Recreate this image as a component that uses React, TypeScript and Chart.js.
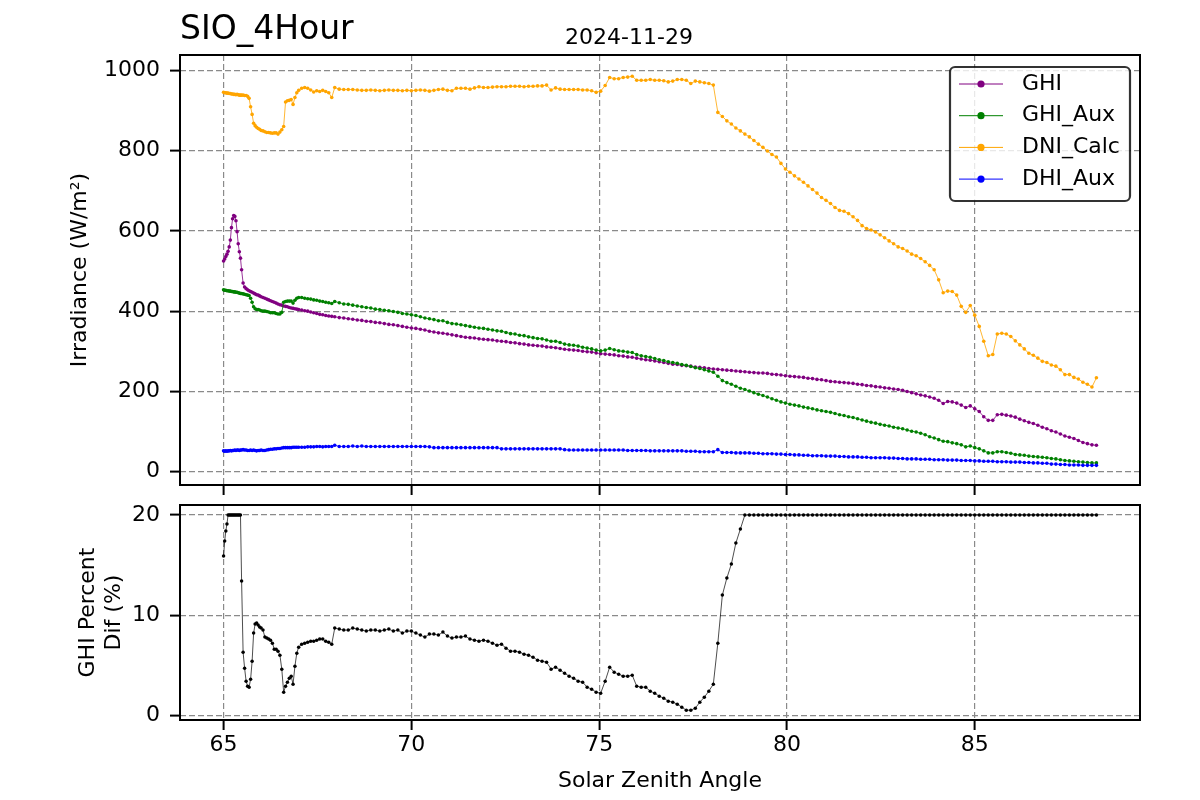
import React, { useEffect, useRef } from 'react';
import { Chart, registerables } from 'chart.js';

Chart.register(...registerables);

const FONT = "'DejaVu Sans', 'Liberation Sans', sans-serif";
Chart.defaults.font.family = FONT;
Chart.defaults.color = '#000';

// Solar zenith angle (x) for every sample
const ZENITH = [
  65.00, 65.03, 65.06, 65.09, 65.12, 65.15, 65.18, 65.21, 65.24, 65.27, 65.30, 65.33, 65.36, 65.39, 65.42, 65.45,
  65.48, 65.52, 65.56, 65.60, 65.64, 65.68, 65.72, 65.76, 65.80, 65.84, 65.88, 65.92, 65.96, 66.00,
  66.05, 66.10, 66.15, 66.20, 66.25, 66.30, 66.35, 66.40, 66.45, 66.50, 66.55, 66.60, 66.65, 66.70, 66.75, 66.80, 66.85, 66.90, 66.95, 67.00,
  67.08, 67.16, 67.24, 67.32, 67.40, 67.48, 67.56, 67.64, 67.72, 67.80, 67.88, 67.96,
  68.08, 68.20, 68.32, 68.44, 68.56, 68.68, 68.80, 68.92, 69.04, 69.16,
  69.28, 69.40, 69.52, 69.64, 69.76, 69.88, 70.00, 70.12, 70.24, 70.36,
  70.48, 70.60, 70.72, 70.84, 70.96, 71.08, 71.20, 71.32, 71.44, 71.56,
  71.68, 71.80, 71.92, 72.04, 72.16, 72.28, 72.40, 72.52, 72.64, 72.76,
  72.88, 73.00, 73.12, 73.24, 73.36, 73.48, 73.60, 73.72, 73.84, 73.96,
  74.08, 74.20, 74.32, 74.44, 74.56, 74.68, 74.80, 74.92, 75.04, 75.16,
  75.28, 75.40, 75.52, 75.64, 75.76, 75.88, 76.00, 76.12, 76.24, 76.36,
  76.48, 76.60, 76.72, 76.84, 76.96, 77.08, 77.20, 77.32, 77.44, 77.56,
  77.68, 77.80, 77.92, 78.04, 78.16, 78.28, 78.40, 78.52, 78.64, 78.76,
  78.88, 79.00, 79.12, 79.24, 79.36, 79.48, 79.60, 79.72, 79.84, 79.96,
  80.08, 80.20, 80.32, 80.44, 80.56, 80.68, 80.80, 80.92, 81.04, 81.16,
  81.28, 81.40, 81.52, 81.64, 81.76, 81.88, 82.00, 82.12, 82.24, 82.36,
  82.48, 82.60, 82.72, 82.84, 82.96, 83.08, 83.20, 83.32, 83.44, 83.56,
  83.68, 83.80, 83.92, 84.04, 84.16, 84.28, 84.40, 84.52, 84.64, 84.76,
  84.88, 85.00, 85.12, 85.24, 85.36, 85.48, 85.60, 85.72, 85.84, 85.96,
  86.08, 86.20, 86.32, 86.44, 86.56, 86.68, 86.80, 86.92, 87.04, 87.16,
  87.28, 87.40, 87.52, 87.64, 87.76, 87.88, 88.00, 88.12, 88.24,
];

const GHI = [
  525, 530, 536, 542, 549, 560, 577, 608, 630, 638, 636, 625, 598, 568, 548, 532,
  503, 470, 460, 456, 453, 451, 449, 447, 445, 443, 441, 440, 438, 436,
  434, 432, 430, 428, 426, 424, 422, 420, 418, 416, 415, 413, 412, 411, 409, 408, 407, 406, 405, 404,
  403, 401, 400, 398, 396, 394, 392, 391, 389, 388, 387, 386,
  384, 383, 381, 380, 378, 377, 375, 374, 372, 371,
  369, 367, 366, 364, 362, 360, 358, 357, 355, 353,
  350, 348, 346, 345, 343, 341, 339, 337, 335, 334,
  333, 331, 330, 329, 328, 326, 325, 324, 322, 321,
  319, 318, 316, 315, 314, 313, 311, 310, 309, 307,
  305, 304, 303, 302, 300, 299, 298, 296, 294, 293,
  292, 291, 289, 288, 286, 285, 283, 281, 279, 278,
  276, 274, 272, 270, 268, 267, 265, 264, 263, 261,
  260, 259, 257, 256, 255, 254, 253, 252, 251, 250,
  249, 248, 247, 246, 246, 245, 243, 242, 241, 239,
  238, 237, 236, 235, 233, 232, 230, 229, 227, 225,
  224, 223, 222, 221, 220, 218, 217, 215, 214, 212,
  211, 209, 208, 206, 205, 203, 200, 197, 194, 191,
  189, 186, 183, 178, 170, 175, 174, 171, 166, 160,
  164, 157, 150, 137, 128, 128, 142, 143, 141, 139,
  136, 131, 127, 123, 120, 116, 111, 107, 102, 99,
  94, 89, 86, 83, 78, 73, 70, 67, 66,
];

const GHI_AUX = [
  453, 452, 452, 451, 451, 450, 450, 449, 449, 448, 448, 447, 447, 446, 445, 444,
  444, 443, 442, 441, 440, 439, 432, 422, 411, 406, 404, 404, 403, 401,
  400, 400, 399, 398, 396, 396, 396, 394, 393, 393, 397, 422, 424, 425, 425, 425, 420, 427, 432, 434,
  434, 432, 431, 430, 428, 427, 425, 424, 422, 421, 419, 424,
  421, 418, 417, 415, 413, 411, 409, 408, 405, 404,
  402, 401, 399, 397, 394, 393, 391, 389, 386, 383,
  381, 379, 376, 376, 372, 369, 368, 366, 364, 362,
  360, 358, 357, 355, 353, 351, 350, 347, 344, 343,
  340, 339, 336, 334, 332, 331, 328, 325, 325, 322,
  318, 316, 315, 313, 310, 308, 306, 303, 301, 303,
  307, 304, 301, 300, 298, 297, 292, 289, 287, 285,
  282, 279, 277, 274, 272, 270, 267, 265, 262, 259,
  257, 254, 251, 248, 238, 227, 222, 218, 213, 208,
  205, 201, 197, 193, 190, 186, 182, 178, 174, 171,
  168, 166, 164, 161, 159, 157, 154, 152, 150, 148,
  145, 142, 140, 137, 135, 132, 129, 126, 123, 121,
  118, 116, 114, 111, 109, 107, 104, 101, 99, 96,
  92, 87, 84, 80, 76, 75, 72, 70, 67, 62,
  64, 60, 57, 52, 47, 47, 50, 50, 48, 46,
  43, 42, 41, 39, 38, 37, 36, 35, 33, 32,
  30, 28, 27, 26, 25, 24, 23, 22, 22,
];

const DNI_CALC = [
  945, 944, 944, 943, 943, 942, 942, 941, 941, 940, 940, 939, 940, 939, 938, 938,
  938, 938, 937, 937, 935, 930, 909, 890, 868, 862, 858, 855, 853, 850,
  849, 847, 845, 845, 844, 843, 844, 844, 841, 846, 852, 860, 921, 924, 925, 927, 915, 932, 944, 950,
  955, 957, 955, 951, 946, 949, 947, 950, 947, 944, 932, 957,
  953, 952, 952, 952, 951, 950, 950, 951, 950, 949,
  950, 951, 950, 950, 949, 950, 949, 950, 951, 950,
  948, 950, 952, 953, 950, 949, 955, 955, 955, 953,
  956, 959, 957, 957, 958, 959, 959, 959, 960, 960,
  960, 959, 960, 960, 961, 961, 963, 951, 956, 953,
  952, 952, 952, 952, 951, 951, 949, 945, 948, 962,
  982, 979, 979, 982, 983, 985, 975, 975, 975, 977,
  975, 975, 974, 971, 973, 977, 977, 975, 967, 973,
  971, 969, 967, 963, 895, 885, 874, 866, 856, 849,
  841, 834, 825, 816, 808, 799, 790, 784, 768, 754,
  746, 737, 729, 721, 712, 703, 694, 683, 676, 668,
  658, 651, 649, 643, 635, 626, 613, 606, 602, 597,
  590, 583, 575, 568, 560, 556, 550, 542, 538, 531,
  523, 514, 503, 478, 446, 450, 449, 440, 412, 397,
  414, 390, 362, 325, 289, 292, 343, 345, 343, 337,
  326, 316, 306, 295, 290, 283, 275, 272, 266, 263,
  254, 242, 242, 235, 231, 223, 218, 211, 234,
];

const DHI_AUX = [
  52, 51, 52, 51, 52, 52, 53, 52, 53, 53, 54, 53, 54, 54, 53, 54,
  54, 55, 54, 54, 53, 53, 54, 53, 54, 53, 52, 53, 53, 54,
  53, 53, 54, 55, 56, 56, 57, 57, 58, 58, 59, 60, 60, 60, 60, 60, 61, 61, 61, 61,
  61, 61, 62, 62, 62, 63, 63, 62, 63, 63, 63, 66,
  63, 63, 63, 64, 63, 64, 63, 63, 63, 63,
  63, 63, 63, 63, 63, 63, 63, 63, 63, 63,
  62, 60, 60, 60, 60, 60, 60, 60, 60, 60,
  60, 60, 60, 60, 60, 60, 57, 57, 57, 57,
  57, 57, 57, 57, 57, 57, 57, 57, 57, 57,
  55, 54, 54, 54, 54, 54, 54, 54, 54, 54,
  54, 54, 54, 54, 53, 53, 53, 53, 53, 52,
  52, 52, 52, 52, 52, 52, 52, 51, 51, 51,
  50, 50, 50, 50, 55, 48, 48, 48, 47, 47,
  47, 47, 46, 46, 45, 45, 45, 44, 44, 43,
  43, 42, 42, 41, 41, 40, 40, 40, 39, 39,
  39, 38, 38, 37, 37, 37, 36, 36, 35, 35,
  35, 35, 34, 34, 33, 33, 32, 32, 32, 31,
  31, 31, 30, 30, 30, 29, 29, 29, 28, 28,
  28, 27, 27, 26, 26, 26, 25, 25, 25, 24,
  24, 24, 23, 23, 22, 22, 21, 21, 19, 19,
  18, 18, 17, 17, 17, 16, 16, 16, 16,
];

const GHI_PCT_DIF = [
  15.9, 17.4, 18.4, 19.1, 20, 20, 20, 20, 20, 20, 20, 20, 20, 20, 20, 20,
  13.4, 6.3, 4.7, 3.4, 2.9, 2.8, 3.6, 5.4, 8.2, 9.1, 9.2, 9.0, 8.8, 8.7,
  8.5, 7.8, 7.7, 7.6, 7.5, 7.2, 6.6, 6.6, 6.4, 6.0, 4.6, 2.3, 2.9, 3.3, 3.7, 3.9, 3.1, 4.9, 6.2, 6.8,
  7.1, 7.2, 7.3, 7.4, 7.4, 7.5, 7.6, 7.6, 7.4, 7.3, 7.1, 8.7,
  8.6, 8.5, 8.5, 8.7, 8.6, 8.5, 8.4, 8.5, 8.5, 8.4,
  8.5, 8.6, 8.4, 8.5, 8.2, 8.4, 8.4, 8.2, 8.0, 7.8,
  8.1, 8.1, 8.0, 8.3, 7.9, 7.7, 7.8, 7.8, 7.9, 7.6,
  7.5, 7.4, 7.5, 7.4, 7.2, 7.0, 7.1, 6.7, 6.4, 6.4,
  6.3, 6.1, 6.0, 5.8, 5.5, 5.4, 5.3, 4.6, 4.8, 4.5,
  4.2, 3.9, 3.7, 3.4, 3.3, 2.8, 2.6, 2.3, 2.2, 3.4,
  4.8, 4.3, 4.1, 3.9, 3.9, 4.0, 2.9, 2.8, 2.8, 2.4,
  2.2, 1.9, 1.7, 1.4, 1.3, 1.1, 0.8, 0.5, 0.5, 0.7,
  1.3, 1.8, 2.4, 3.1, 7.2, 12.0, 13.7, 15.1, 17.2, 18.6,
  20, 20, 20, 20, 20, 20, 20, 20, 20, 20,
  20, 20, 20, 20, 20, 20, 20, 20, 20, 20,
  20, 20, 20, 20, 20, 20, 20, 20, 20, 20,
  20, 20, 20, 20, 20, 20, 20, 20, 20, 20,
  20, 20, 20, 20, 20, 20, 20, 20, 20, 20,
  20, 20, 20, 20, 20, 20, 20, 20, 20, 20,
  20, 20, 20, 20, 20, 20, 20, 20, 20, 20,
  20, 20, 20, 20, 20, 20, 20, 20, 20,
];

const SERIES_LABELS = ['GHI', 'GHI_Aux', 'DNI_Calc', 'DHI_Aux'];
const SERIES_COLORS = ['#800080', '#008000', '#FFA500', '#0000FF'];
const SERIES_VALUES = [GHI, GHI_AUX, DNI_CALC, DHI_AUX];

const X_TICKS = [65, 70, 75, 80, 85];
const Y_TICKS_TOP = [0, 200, 400, 600, 800, 1000];
const Y_TICKS_BOTTOM = [0, 10, 20];

const X_MIN = 63.84;
const X_MAX = 89.4;

const TITLE = 'SIO_4Hour';
const DATE = '2024-11-29';

const GRID_COLOR = '#8a8a8a';
const DASH = [6, 3];

const frame = {
  id: 'frame',
  afterDatasetsDraw(chart: any) {
    const { ctx, chartArea: a } = chart;
    ctx.save();
    ctx.strokeStyle = '#000';
    ctx.lineWidth = 2;
    ctx.setLineDash([]);
    ctx.strokeRect(a.left, a.top, a.right - a.left, a.bottom - a.top);
    ctx.restore();
  },
};

// date label above the axes (matplotlib centre title)
const dateLabel = {
  id: 'dateLabel',
  afterDraw(chart: any) {
    const { ctx, chartArea: a } = chart;
    ctx.save();
    ctx.fillStyle = '#000';
    ctx.font = `22px ${FONT}`;
    ctx.textAlign = 'center';
    ctx.textBaseline = 'alphabetic';
    ctx.fillText(DATE, a.left + 449, a.top - 11);
    ctx.restore();
  },
};

const insetLegend = {
  id: 'insetLegend',
  afterDraw(chart: any) {
    const { ctx, chartArea: a } = chart;
    const x0 = a.right - 190;
    const y0 = a.top + 12;
    const w = 180;
    const h = 134;
    ctx.save();
    ctx.beginPath();
    ctx.roundRect(x0, y0, w, h, 5);
    ctx.fillStyle = 'rgba(255,255,255,0.8)';
    ctx.fill();
    ctx.lineWidth = 2.2;
    ctx.strokeStyle = 'rgba(0,0,0,0.8)';
    ctx.stroke();
    chart.data.datasets.forEach((ds: any, i: number) => {
      const y = y0 + 17 + i * 31.7;
      ctx.strokeStyle = ds.borderColor;
      ctx.lineWidth = 1;
      ctx.beginPath();
      ctx.moveTo(x0 + 9, y);
      ctx.lineTo(x0 + 53, y);
      ctx.stroke();
      ctx.fillStyle = ds.pointBackgroundColor;
      ctx.beginPath();
      ctx.arc(x0 + 31, y, 3.6, 0, Math.PI * 2);
      ctx.fill();
      ctx.fillStyle = '#000';
      ctx.font = `22px ${FONT}`;
      ctx.textBaseline = 'middle';
      ctx.textAlign = 'left';
      ctx.fillText(ds.label, x0 + 72, y);
    });
    ctx.restore();
  },
};

const tickFont = { family: FONT, size: 22 };

function gridOpts() {
  return {
    color: GRID_COLOR,
    lineWidth: 1.2,
    borderDash: DASH,
    drawTicks: true,
    tickLength: 10,
    tickColor: '#000',
    tickWidth: 2,
    tickBorderDash: [],
  };
}

function fixSize(width: number | null, height: number | null) {
  return (scale: any) => {
    if (width !== null) scale.width = width;
    if (height !== null) scale.height = height;
    scale.paddingTop = 0;
    scale.paddingBottom = 0;
    scale.paddingLeft = 0;
    scale.paddingRight = 0;
  };
}

export default function App() {
  const topRef = useRef<HTMLCanvasElement>(null);
  const botRef = useRef<HTMLCanvasElement>(null);

  useEffect(() => {
    const topChart = new Chart(topRef.current as HTMLCanvasElement, {
      type: 'line',
      data: {
        datasets: SERIES_LABELS.map((label, s) => ({
          label,
          data: ZENITH.map((x, i) => ({ x, y: SERIES_VALUES[s][i] })),
          borderColor: SERIES_COLORS[s],
          backgroundColor: SERIES_COLORS[s],
          pointBackgroundColor: SERIES_COLORS[s],
          pointBorderColor: SERIES_COLORS[s],
          pointBorderWidth: 0,
          pointRadius: 1.8,
          borderWidth: 0.8,
          tension: 0,
          fill: false,
          order: SERIES_LABELS.length - s,
        })),
      },
      options: {
        responsive: false,
        animation: false,
        devicePixelRatio: 1,
        events: [],
        layout: { padding: { left: 0, right: 60, top: 0, bottom: 0 } },
        plugins: {
          legend: { display: false },
          tooltip: { enabled: false },
          title: {
            display: true,
            text: TITLE,
            align: 'start',
            fullSize: false,
            color: '#000',
            font: { family: FONT, size: 33, weight: 'normal' },
            padding: { top: 11, bottom: 4.4 },
          },
        },
        scales: {
          x: {
            type: 'linear',
            min: X_MIN,
            max: X_MAX,
            afterBuildTicks: (scale: any) => {
              scale.ticks = X_TICKS.map((v) => ({ value: v }));
            },
            ticks: { display: false },
            grid: gridOpts(),
            border: { display: false, dash: DASH },
            afterFit: fixSize(null, 15),
          },
          y: {
            type: 'linear',
            min: -33,
            max: 1038,
            afterBuildTicks: (scale: any) => {
              scale.ticks = Y_TICKS_TOP.map((v) => ({ value: v }));
            },
            ticks: { font: tickFont, color: '#000', padding: 10, callback: (v: any) => String(v) },
            grid: gridOpts(),
            border: { display: false, dash: DASH },
            title: {
              display: true,
              text: 'Irradiance (W/m²)',
              color: '#000',
              font: { family: FONT, size: 22 },
              padding: { top: 67, bottom: 0 },
            },
            afterFit: fixSize(180, null),
          },
        },
      } as any,
      plugins: [frame, dateLabel, insetLegend],
    });

    const botChart = new Chart(botRef.current as HTMLCanvasElement, {
      type: 'line',
      data: {
        datasets: [
          {
            label: 'GHI Percent Dif',
            data: ZENITH.map((x, i) => ({ x, y: GHI_PCT_DIF[i] })),
            borderColor: '#000',
            backgroundColor: '#000',
            pointBackgroundColor: '#000',
            pointBorderColor: '#000',
            pointBorderWidth: 0,
            pointRadius: 1.75,
            borderWidth: 0.7,
            tension: 0,
            fill: false,
          },
        ],
      },
      options: {
        responsive: false,
        animation: false,
        devicePixelRatio: 1,
        events: [],
        layout: { padding: { left: 0, right: 60, top: 5, bottom: 0 } },
        plugins: {
          legend: { display: false },
          tooltip: { enabled: false },
        },
        scales: {
          x: {
            type: 'linear',
            min: X_MIN,
            max: X_MAX,
            afterBuildTicks: (scale: any) => {
              scale.ticks = X_TICKS.map((v) => ({ value: v }));
            },
            ticks: { font: tickFont, color: '#000', padding: 2, maxRotation: 0, callback: (v: any) => String(v) },
            grid: gridOpts(),
            border: { display: false, dash: DASH },
            title: {
              display: true,
              text: 'Solar Zenith Angle',
              color: '#000',
              font: { family: FONT, size: 22 },
              padding: { top: 0, bottom: 6 },
            },
            afterFit: fixSize(null, 80),
          },
          y: {
            type: 'linear',
            min: -0.48,
            max: 21,
            afterBuildTicks: (scale: any) => {
              scale.ticks = Y_TICKS_BOTTOM.map((v) => ({ value: v }));
            },
            ticks: { font: tickFont, color: '#000', padding: 10, callback: (v: any) => String(v) },
            grid: gridOpts(),
            border: { display: false, dash: DASH },
            title: {
              display: true,
              text: ['GHI Percent', 'Dif (%)'],
              color: '#000',
              font: { family: FONT, size: 22, lineHeight: 1.15 },
              padding: { top: 76, bottom: 0 },
            },
            afterFit: fixSize(180, null),
          },
        },
      } as any,
      plugins: [frame],
    });

    return () => {
      topChart.destroy();
      botChart.destroy();
    };
  }, []);

  return (
    <div style={{ position: 'absolute', left: 0, top: 0, width: 1200, height: 800, background: '#fff' }}>
      <canvas
        ref={topRef}
        width={1200}
        height={500}
        style={{ position: 'absolute', left: 0, top: 0, width: 1200, height: 500 }}
      />
      <canvas
        ref={botRef}
        width={1200}
        height={300}
        style={{ position: 'absolute', left: 0, top: 500, width: 1200, height: 300 }}
      />
    </div>
  );
}
